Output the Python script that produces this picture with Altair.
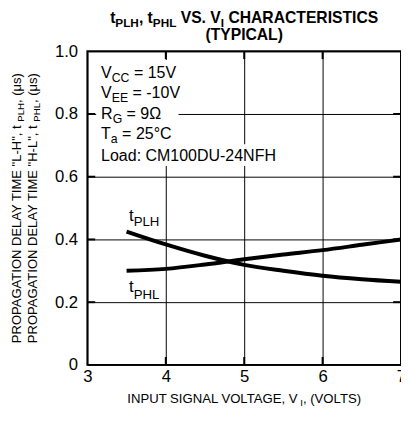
import altair as alt
import pandas as pd

# ---------------- data ----------------
volts = [3.5, 4.0, 4.5, 5.0, 5.5, 6.0, 6.5, 7.0]
t_plh = [0.425, 0.384, 0.348, 0.319, 0.300, 0.284, 0.273, 0.265]
t_phl = [0.300, 0.306, 0.320, 0.337, 0.352, 0.366, 0.383, 0.400]

x_ticks = [3, 4, 5, 6, 7]
y_ticks = [0, 0.2, 0.4, 0.6, 0.8, 1.0]

FONT = "Liberation Sans"
W, H = 320, 320
X0, X1, Y0, Y1 = 3, 7, 0, 1.0

# Helvetica/Arial metrics (per 1000 em) for text layout of sub-scripted labels
REG = {" ": 278, '"': 355, "(": 333, ")": 333, ",": 278, "-": 333, ".": 278, ":": 278,
       "=": 584, "°": 400, "Ω": 768, "μ": 576}
for c in "0123456789":
    REG[c] = 556
REG.update(dict(zip("ABCDEFGHIJKLMNOPQRSTUVWXYZ",
                    [667, 667, 722, 722, 667, 611, 778, 722, 278, 500, 667, 556, 833,
                     722, 778, 667, 778, 722, 667, 611, 722, 667, 944, 667, 667, 611])))
REG.update(dict(zip("abcdefghijklmnopqrstuvwxyz",
                    [556, 556, 500, 556, 556, 278, 556, 556, 222, 222, 500, 222, 833,
                     556, 556, 556, 556, 333, 500, 278, 556, 500, 722, 500, 500, 500])))
BOLD = {" ": 278, "(": 333, ")": 333, ",": 278, ".": 278, "t": 333}
BOLD.update(dict(zip("ABCDEFGHIJKLMNOPQRSTUVWXYZ",
                     [722, 722, 722, 722, 667, 611, 778, 722, 278, 556, 722, 611, 833,
                      722, 778, 667, 778, 722, 667, 611, 722, 667, 944, 667, 667, 611])))


def tw(s, size, bold=False):
    tbl = BOLD if bold else REG
    return sum(tbl.get(ch, 556) for ch in s) * size / 1000.0


def dx(px):  # pixel offset inside plot -> data x
    return X0 + px / W * (X1 - X0)


def dy(py):  # pixel offset from plot top -> data y
    return Y1 - py / H * (Y1 - Y0)


def segs(parts, x, base, size, sub, shift, bold=False, center=False):
    """horizontal run of text pieces; parts = [(text, is_sub)]"""
    total = sum(tw(t, sub if s else size, bold) for t, s in parts)
    cur = x - total / 2 if center else x
    rows = []
    for t, s in parts:
        fs = sub if s else size
        lead = len(t) - len(t.lstrip(" "))
        pos = cur + tw(" " * lead, fs, bold)
        rows.append({"text": t.strip(" "), "x": dx(pos),
                     "y": dy(base + (shift if s else 0)), "size": fs})
        cur += tw(t, fs, bold)
    return rows


def vsegs(parts, base_x, center_y, size, sub, shift):
    """vertical (rotated 270) run of text pieces"""
    total = sum(tw(t, sub if s else size) for t, s in parts)
    cur = center_y + total / 2
    rows = []
    for t, s in parts:
        fs = sub if s else size
        lead = len(t) - len(t.lstrip(" "))
        pos = cur - tw(" " * lead, fs)
        rows.append({"text": t.strip(" "), "x": dx(base_x + (shift if s else 0)),
                     "y": dy(pos), "size": fs})
        cur -= tw(t, fs)
    return rows


xs = alt.Scale(domain=[X0, X1], nice=False, zero=False)
ys = alt.Scale(domain=[Y0, Y1], nice=False, zero=False)
xaxis = alt.Axis(values=x_ticks, grid=True, gridColor="black", gridWidth=1, domain=False,
                 ticks=False, labelFont=FONT, labelFontSize=17, labelColor="black",
                 labelPadding=4, title=None, labelFlush=False)
yaxis = alt.Axis(values=y_ticks, grid=True, gridColor="black", gridWidth=1, domain=False,
                 ticks=False, labelFont=FONT, labelFontSize=17, labelColor="black",
                 labelPadding=10, title=None,
                 labelExpr="datum.value == 0 ? '0' : format(datum.value, '.1f')")


def X(f):
    return alt.X(f, type="quantitative", scale=xs, axis=xaxis)


def Y(f):
    return alt.Y(f, type="quantitative", scale=ys, axis=yaxis)


# curves
curve_df = pd.DataFrame({
    "v": volts * 2,
    "t": t_plh + t_phl,
    "s": ["tPLH"] * len(volts) + ["tPHL"] * len(volts),
})
curves = alt.Chart(curve_df).mark_line(
    interpolate="monotone", strokeWidth=4, color="black"
).encode(x=X("v"), y=Y("t"), detail="s:N")

# white boxes behind the conditions text
box_df = pd.DataFrame({
    "x": [dx(9), dx(9)], "x2": [dx(93), dx(195)],
    "y": [dy(9), dy(95)], "y2": [dy(95), dy(117)],
})
boxes = alt.Chart(box_df).mark_rect(color="white").encode(
    x=X("x"), x2="x2", y=Y("y"), y2="y2")

# inward ticks on all four sides
tk = []
for v in x_ticks[1:-1]:
    tk.append({"x": v, "x2": v, "y": Y0, "y2": dy(H - 8)})
    tk.append({"x": v, "x2": v, "y": dy(8), "y2": Y1})
for v in y_ticks[1:-1]:
    tk.append({"x": X0, "x2": dx(8), "y": v, "y2": v})
    tk.append({"x": dx(W - 8), "x2": X1, "y": v, "y2": v})
ticks = alt.Chart(pd.DataFrame(tk)).mark_rule(color="black", strokeWidth=2).encode(
    x=X("x"), x2="x2", y=Y("y"), y2="y2")

# regular text pieces
rows = []
# conditions box
CS, CSUB = 16.3, 12.5
rows += segs([("V", 0), ("CC", 1), (" = 15V", 0)], 14, 27, CS, CSUB, 4)
rows += segs([("V", 0), ("EE", 1), (" = -10V", 0)], 14, 48, CS, CSUB, 4)
rows += segs([("R", 0), ("G", 1), (" = 9Ω", 0)], 14, 69, CS, CSUB, 4)
rows += segs([("T", 0), ("a", 1), (" = 25°C", 0)], 14, 90, CS, CSUB, 4)
rows += segs([("Load: CM100DU-24NFH", 0)], 14, 112, CS, CSUB, 4)
# curve labels
rows += segs([("t", 0), ("PLH", 1)], 42.5, 173, 17, 13.5, 5.5)
rows += segs([("t", 0), ("PHL", 1)], 42.5, 246, 17, 13.5, 6.5)
# x axis title
rows += segs([("INPUT SIGNAL VOLTAGE, V", 0), ("I", 1), (", (VOLTS)", 0)],
             160.5, 359, 13.4, 9.8, 3, center=True)
text_df = pd.DataFrame(rows)
texts = alt.Chart(text_df).mark_text(
    align="left", baseline="alphabetic", font=FONT, color="black"
).encode(x=X("x"), y=Y("y"), text="text:N", size=alt.Size("size:Q", scale=None, legend=None))

# bold title
trows = []
trows += segs([("t", 0), ("PLH", 1), (", t", 0), ("PHL", 1), (" VS. V", 0), ("I", 1),
               (" CHARACTERISTICS", 0)], 160, -28.5, 16, 12, 4, bold=True, center=True)
trows += segs([("(TYPICAL)", 0)], 160, -12, 16, 12, 4, bold=True, center=True)
title = alt.Chart(pd.DataFrame(trows)).mark_text(
    align="left", baseline="alphabetic", font=FONT, color="black", fontWeight="bold"
).encode(x=X("x"), y=Y("y"), text="text:N", size=alt.Size("size:Q", scale=None, legend=None))

# rotated y axis title (two lines)
vrows = []
vrows += vsegs([("PROPAGATION DELAY TIME \"L-H\", t", 0), ("PLH", 1), (", (μs)", 0)],
               -68, 160, 13.3, 9.8, 3)
vrows += vsegs([("PROPAGATION DELAY TIME \"H-L\", t", 0), ("PHL", 1), (", (μs)", 0)],
               -51.5, 160, 13.3, 9.8, 3)
ytitle = alt.Chart(pd.DataFrame(vrows)).mark_text(
    align="left", baseline="alphabetic", font=FONT, color="black", angle=270
).encode(x=X("x"), y=Y("y"), text="text:N", size=alt.Size("size:Q", scale=None, legend=None))

chart = alt.layer(boxes, ticks, curves, texts, title, ytitle).properties(
    width=W, height=H,
    autosize=alt.AutoSizeParams(type="none"),
    padding={"left": 81, "top": 40, "right": 0, "bottom": 47},
    background="white",
).configure_view(stroke="black", strokeWidth=2)

chart.save("out.html", embed_options={"renderer": "svg", "actions": False})
